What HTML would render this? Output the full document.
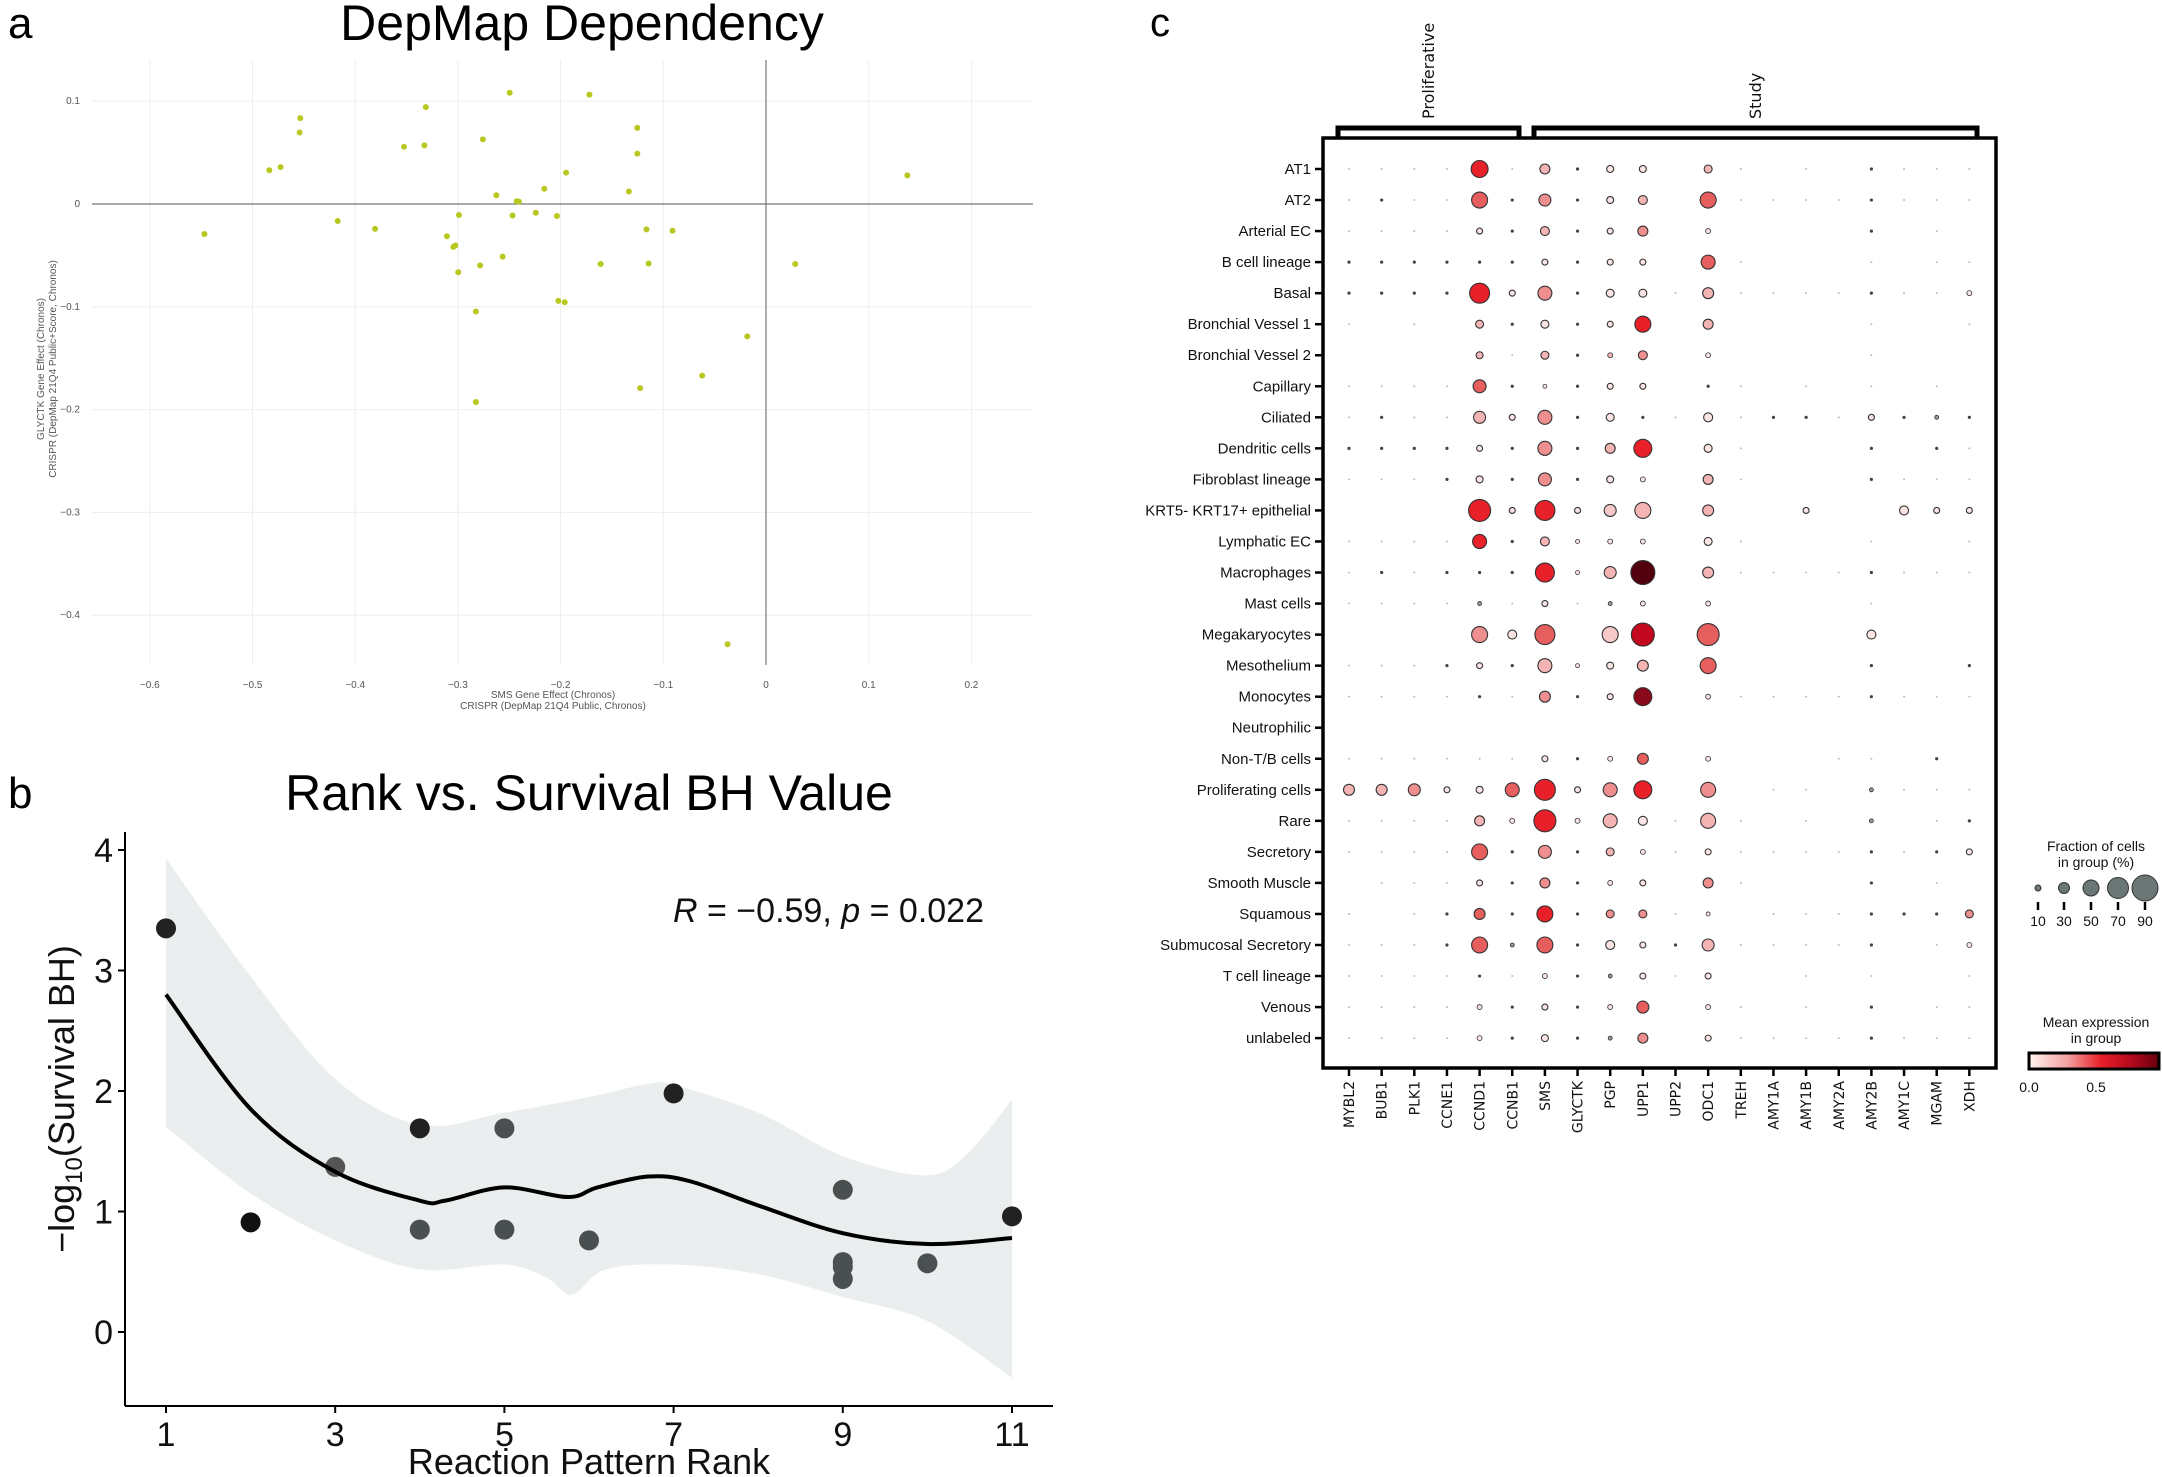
<!DOCTYPE html>
<html><head><meta charset="utf-8">
<style>
html,body{margin:0;padding:0;background:#fff;}
svg{display:block;}
.n{font-family:"Liberation Sans Narrow","Liberation Sans",sans-serif;}
.s{font-family:"Liberation Sans","DejaVu Sans",sans-serif;}
.dj{font-family:"DejaVu Sans","Liberation Sans",sans-serif;}
</style></head>
<body>
<svg id="sv" width="2162" height="1477" viewBox="0 0 2162 1477" xmlns="http://www.w3.org/2000/svg">
<rect width="2162" height="1477" fill="#fff"/>
<!-- Panel a -->
<text x="8" y="38" class="s" font-size="44">a</text>
<text x="582" y="40" class="s" font-size="50" text-anchor="middle">DepMap Dependency</text>
<g id="ga"></g>
<!-- Panel b -->
<text x="8" y="808" class="s" font-size="44">b</text>
<text x="589" y="810" class="n" font-size="50" text-anchor="middle">Rank vs. Survival BH Value</text>
<g id="gb"></g>
<!-- Panel c -->
<text x="1150" y="36" class="s" font-size="40">c</text>
<g id="gc"></g>
</svg>
<script>
const NS="http://www.w3.org/2000/svg";
function el(p,t,a,txt){const e=document.createElementNS(NS,t);for(const k in a)e.setAttribute(k,a[k]);if(txt!==undefined)e.textContent=txt;p.appendChild(e);return e;}
// ---------- Panel a
(function(){
const g=document.getElementById('ga');
const X=v=>766+v*1027, Y=v=>204-v*1028;
for(let v=-0.6;v<=0.21;v+=0.1){const x=X(v);el(g,'line',{x1:x,y1:60,x2:x,y2:665,stroke:'#eeeeee','stroke-width':1});
 el(g,'text',{x:x,y:688,'font-size':10,fill:'#555','text-anchor':'middle',class:'s'},(Math.abs(v)<1e-9?'0':(v<0?'−':'')+Math.abs(v).toFixed(1)));}
for(let v=0.1;v>=-0.41;v-=0.1){const y=Y(v);el(g,'line',{x1:92,y1:y,x2:1033,y2:y,stroke:'#eeeeee','stroke-width':1});
 el(g,'text',{x:80,y:y+3,'font-size':10,fill:'#555','text-anchor':'end',class:'s'},(Math.abs(v)<1e-9?'0':(v<0?'−':'')+Math.abs(v).toFixed(1)));}
el(g,'line',{x1:766,y1:60,x2:766,y2:665,stroke:'#777','stroke-width':1.2});
el(g,'line',{x1:92,y1:204,x2:1033,y2:204,stroke:'#777','stroke-width':1.2});
el(g,'text',{x:553,y:698,'font-size':10,fill:'#555','text-anchor':'middle',class:'s'},'SMS Gene Effect (Chronos)');
el(g,'text',{x:553,y:709,'font-size':10,fill:'#555','text-anchor':'middle',class:'s'},'CRISPR (DepMap 21Q4 Public, Chronos)');
el(g,'text',{x:0,y:0,'font-size':10,fill:'#555','text-anchor':'middle',class:'s',transform:'translate(44,369) rotate(-90)'},'GLYCTK Gene Effect (Chronos)');
el(g,'text',{x:0,y:0,'font-size':10,fill:'#555','text-anchor':'middle',class:'s',transform:'translate(56,369) rotate(-90)'},'CRISPR (DepMap 21Q4 Public+Score, Chronos)');
const P=[[723,201],[836,205],[604,232],[426,256],[904,277],[425,287],[685,302],[573,318],[602,315],[904,333],[398,362],[382,369],[803,374],[1287,380],[772,409],[892,415],[704,423],[733,436],[736,437],[651,466],[727,467],[760,461],[790,468],[479,479],[532,496],[917,497],[954,500],[290,507],[634,512],[646,532],[643,535],[713,556],[852,572],[920,571],[1128,572],[681,575],[650,590],[792,652],[801,655],[675,675],[1060,729],[996,814],[908,841],[675,871],[1032,1396]];
P.forEach(p=>el(g,'circle',{cx:p[0]*0.705,cy:p[1]*0.4615,r:3,fill:'#b8c820'}));
})();
// ---------- Panel b
(function(){
const g=document.getElementById('gb');
const X=v=>166+(v-1)*84.6, Y=v=>1332-v*120.5;
function smooth(pts){let d='M'+pts[0][0]+','+pts[0][1];for(let i=0;i<pts.length-1;i++){const p0=pts[i-1]||pts[i],p1=pts[i],p2=pts[i+1],p3=pts[i+2]||p2;
 d+=' C'+(p1[0]+(p2[0]-p0[0])/6)+','+(p1[1]+(p2[1]-p0[1])/6)+' '+(p2[0]-(p3[0]-p1[0])/6)+','+(p2[1]-(p3[1]-p1[1])/6)+' '+p2[0]+','+p2[1];}return d;}
const up=[[1,3.93],[2,2.95],[3,2.1],[4,1.72],[5,1.82],[6,1.95],[6.7,2.06],[7,2.05],[8,1.82],[9,1.46],[10,1.3],[10.5,1.5],[11,1.93]];
const lo=[[1,1.70],[2,1.15],[3,0.76],[4,0.52],[5,0.56],[5.5,0.45],[5.8,0.31],[6.2,0.52],[7,0.56],[8,0.48],[9,0.29],[10,0.09],[11,-0.38]];
const upP=up.map(p=>[X(p[0]),Y(p[1])]), loP=lo.slice().reverse().map(p=>[X(p[0]),Y(p[1])]);
let d=smooth(upP)+' L'+loP[0][0]+','+loP[0][1]+smooth(loP).replace(/^M[^ ]+/,'')+' Z';
el(g,'path',{d:d,fill:'#ebeeee'});
const pts=[[1,3.35,'#222'],[2,0.91,'#111'],[3,1.37,'#555'],[4,1.69,'#222'],[4,0.85,'#4a5050'],[5,1.69,'#4a5050'],[5,0.85,'#4a5050'],[6,0.76,'#4a5050'],[7,1.98,'#222'],[9,1.18,'#4a5050'],[9,0.58,'#4a5050'],[9,0.54,'#4a5050'],[9,0.44,'#4a5050'],[10,0.57,'#4a5050'],[11,0.96,'#222']];
pts.forEach(p=>el(g,'circle',{cx:X(p[0]),cy:Y(p[1]),r:10,fill:p[2]}));
const cv=[[1,2.8],[2,1.85],[3,1.33],[4,1.09],[4.3,1.09],[5,1.2],[5.75,1.12],[6.1,1.2],[6.7,1.29],[7.2,1.25],[8,1.05],[9,0.82],[10,0.73],[11,0.78]];
el(g,'path',{d:smooth(cv.map(p=>[X(p[0]),Y(p[1])])),fill:'none',stroke:'#000','stroke-width':4});
el(g,'line',{x1:125,y1:832,x2:125,y2:1406,stroke:'#000','stroke-width':2});
el(g,'line',{x1:125,y1:1406,x2:1053,y2:1406,stroke:'#000','stroke-width':2});
for(let v=0;v<=4;v++){const y=Y(v);el(g,'line',{x1:118,y1:y,x2:125,y2:y,stroke:'#000','stroke-width':2});
 el(g,'text',{x:113,y:y+12,'font-size':34,'text-anchor':'end',class:'n',fill:'#111'},v);}
[1,3,5,7,9,11].forEach(v=>{const x=X(v);el(g,'line',{x1:x,y1:1406,x2:x,y2:1413,stroke:'#000','stroke-width':2});
 el(g,'text',{x:x,y:1446,'font-size':34,'text-anchor':'middle',class:'n',fill:'#111'},v);});
el(g,'text',{x:589,y:1474,'font-size':36,'text-anchor':'middle',class:'n',fill:'#111'},'Reaction Pattern Rank');
const t=el(g,'text',{'font-size':36,'text-anchor':'middle',class:'n',fill:'#111',transform:'translate(74,1099) rotate(-90)'});
t.innerHTML='−log<tspan font-size="24" dy="8">10</tspan><tspan dy="-8">(Survival BH)</tspan>';
const a=el(g,'text',{x:673,y:922,'font-size':34,class:'n',fill:'#111'});
a.innerHTML='<tspan font-style="italic">R</tspan> = −0.59, <tspan font-style="italic">p</tspan> = 0.022';
})();
// ---------- Panel c
(function(){
const g=document.getElementById('gc');
const cols=['MYBL2','BUB1','PLK1','CCNE1','CCND1','CCNB1','SMS','GLYCTK','PGP','UPP1','UPP2','ODC1','TREH','AMY1A','AMY1B','AMY2A','AMY2B','AMY1C','MGAM','XDH'];
const rows=['AT1','AT2','Arterial EC','B cell lineage','Basal','Bronchial Vessel 1','Bronchial Vessel 2','Capillary','Ciliated','Dendritic cells','Fibroblast lineage','KRT5- KRT17+ epithelial','Lymphatic EC','Macrophages','Mast cells','Megakaryocytes','Mesothelium','Monocytes','Neutrophilic','Non-T/B cells','Proliferating cells','Rare','Secretory','Smooth Muscle','Squamous','Submucosal Secretory','T cell lineage','Venous','unlabeled'];
const CX=i=>1349+i*32.65, RY=j=>169+j*31.04;
const C={w:'#fbe4e4',w2:'#f6c8c8',l:'#f4b4b4',p:'#ee8e8e',m:'#e65e5e',r:'#e8202a',R:'#c4081f',R2:'#8a0a1c',D:'#52000e',g:'#999'};
const data=[
'd d d d 8.5r d 5l D 3.5w 3.5w 0 4l d 0 d 0 D d d d',
'd D d d 8m D 6p D 3.5w 4.5l 0 8m d d d d D d d d',
'd d d d 3w D 4.5l D 3w 5p 0 2.5w 0 0 0 0 D 0 d 0',
'D D D D D D 3w D 3w 3w 0 7m d 0 0 0 d 0 d d',
'D D D D 10r 3w 7p D 4w 4w d 5.5l d d d d D d d 2.5w',
'd 0 d 0 4l D 4w D 3w 8r 0 5l 0 0 0 0 d 0 0 d',
'0 0 0 0 3.5l d 4l D 2.5l 4.5p 0 2.5w 0 0 0 0 d 0 0 0',
'd d d d 6.5m D 2w D 3w 3w 0 D d 0 d 0 d 0 d 0',
'd D d d 6l 3w 7p D 4w D d 4.5w d D D d 3w D 2g D',
'D D D D 3w D 7p D 5l 9r 0 4w d 0 0 0 D 0 D d',
'd d d D 3.5w D 6.5p D 3.5w 2.5w 0 5l d 0 0 0 D d d d',
'0 0 0 0 11r 3w 10r 3w 6w2 8l 0 5.5l 0 0 3w 0 0 4.5w 3w 3w',
'd d d d 7r D 4.5l 2w 2.5w 2.5w 0 4w d 0 0 0 d 0 0 d',
'd D d D D D 9.5r 2w 6l 12D 0 5.5l d d d d D d d d',
'd d d d 2g d 3w d 2g 2.5w 0 2.5w 0 0 0 0 d 0 0 0',
'0 0 0 0 8p 4.5w 10m 0 8w2 11.5R 0 11m 0 0 0 0 4.5w 0 0 0',
'd d d D 3w D 7l 2w 3.5w 5.5l 0 8m 0 0 0 0 D 0 0 D',
'd d d d D d 5.5p D 3w 9R2 0 2.5w d d d d D d d d',
'0 0 0 0 0 0 0 0 0 0 0 0 0 0 0 0 0 0 0 0',
'd d d d d d 3w D 2.5w 5.5m 0 2.5w 0 0 0 d d 0 D 0',
'5.5l 5.5l 6p 3w 3.5w 7m 10.5r 3w 7p 9r 0 7.5p 0 d d 0 2g d d d',
'd d d d 5l 2.5w 11r 2.5w 7l 4.5w d 7.5l d 0 d 0 2g 0 d D',
'd d d d 8m D 6.5p D 4l 2.5w d 3w d d d d D d D 3w',
'0 d d d 3w D 5p D 2.5w 3w 0 5p d 0 0 0 D 0 d 0',
'd 0 d D 5.5m D 8r D 4p 4p d 2w 0 d d d D D D 4p',
'd d d D 8m 2g 8m D 4.5w 3w D 6l d d d d D 0 d 2.5w',
'd d d d D d 2.5w D 2g 3w d 3w 0 0 d 0 d 0 0 d',
'd d d d 2.5w D 3w D 2.5w 6m 0 2.5w d 0 d 0 D 0 d d',
'd d d d 2.5w D 3.5w D 2g 5p 0 3w d d d d D d d d'];
rows.forEach((name,j)=>{const y=RY(j);
 el(g,'line',{x1:1315,y1:y,x2:1323,y2:y,stroke:'#000','stroke-width':2.5});
 el(g,'text',{x:1311,y:y+5,'font-size':15,'text-anchor':'end',class:'n',fill:'#111'},name);
 data[j].split(' ').forEach((tk,i)=>{const x=CX(i);
  if(tk==='0')return;
  if(tk==='d'){el(g,'circle',{cx:x,cy:y,r:1,fill:'#bbb'});return;}
  if(tk==='D'){el(g,'circle',{cx:x,cy:y,r:1.6,fill:'#444'});return;}
  const m=tk.match(/^([\d.]+)(\w+)$/);const r=+m[1];
  el(g,'circle',{cx:x,cy:y,r:r,fill:C[m[2]],stroke:'#333','stroke-width':r<3?0.8:1.1});
 });});
el(g,'rect',{x:1323,y:138,width:673,height:930,fill:'none',stroke:'#000','stroke-width':3.5});
cols.forEach((c,i)=>{const x=CX(i);
 el(g,'line',{x1:x,y1:1068,x2:x,y2:1076,stroke:'#000','stroke-width':2.5});
 el(g,'text',{'font-size':14,'text-anchor':'end',class:'dj',fill:'#111',transform:'translate('+(x+5)+',1081) rotate(-90)'},c);});
// brackets
el(g,'path',{d:'M1338,139 V128 H1519 V139',fill:'none',stroke:'#000','stroke-width':5});
el(g,'path',{d:'M1534,139 V128 H1977 V139',fill:'none',stroke:'#000','stroke-width':5});
el(g,'text',{'font-size':16,class:'dj',fill:'#111',transform:'translate(1434,119) rotate(-90)'},'Proliferative');
el(g,'text',{'font-size':16,class:'dj',fill:'#111',transform:'translate(1761,119) rotate(-90)'},'Study');
// size legend
el(g,'text',{x:2096,y:851,'font-size':14,'text-anchor':'middle',class:'n',fill:'#111'},'Fraction of cells');
el(g,'text',{x:2096,y:867,'font-size':14,'text-anchor':'middle',class:'n',fill:'#111'},'in group (%)');
[[2038,3],[2064,5.5],[2091,8],[2118,10.5],[2145,13]].forEach((p,k)=>{
 el(g,'circle',{cx:p[0],cy:888,r:p[1],fill:'#6b7676',stroke:'#333','stroke-width':1});
 el(g,'line',{x1:p[0],y1:902,x2:p[0],y2:910,stroke:'#000','stroke-width':2.5});
 el(g,'text',{x:p[0],y:926,'font-size':14,'text-anchor':'middle',class:'n',fill:'#111'},[10,30,50,70,90][k]);});
// colorbar
const defs=el(g,'defs',{});const lg=el(defs,'linearGradient',{id:'cb',x1:0,x2:1,y1:0,y2:0});
[['0','#fff5f0'],['0.3','#f4a0a0'],['0.55','#e8202a'],['0.8','#b0081c'],['1','#67000d']].forEach(s=>el(lg,'stop',{offset:s[0],'stop-color':s[1]}));
el(g,'text',{x:2096,y:1027,'font-size':14,'text-anchor':'middle',class:'n',fill:'#111'},'Mean expression');
el(g,'text',{x:2096,y:1043,'font-size':14,'text-anchor':'middle',class:'n',fill:'#111'},'in group');
el(g,'rect',{x:2029,y:1053,width:130,height:16,fill:'url(#cb)',stroke:'#000','stroke-width':3});
el(g,'text',{x:2029,y:1092,'font-size':14,'text-anchor':'middle',class:'n',fill:'#111'},'0.0');
el(g,'text',{x:2096,y:1092,'font-size':14,'text-anchor':'middle',class:'n',fill:'#111'},'0.5');
})();
</script>
</body></html>
